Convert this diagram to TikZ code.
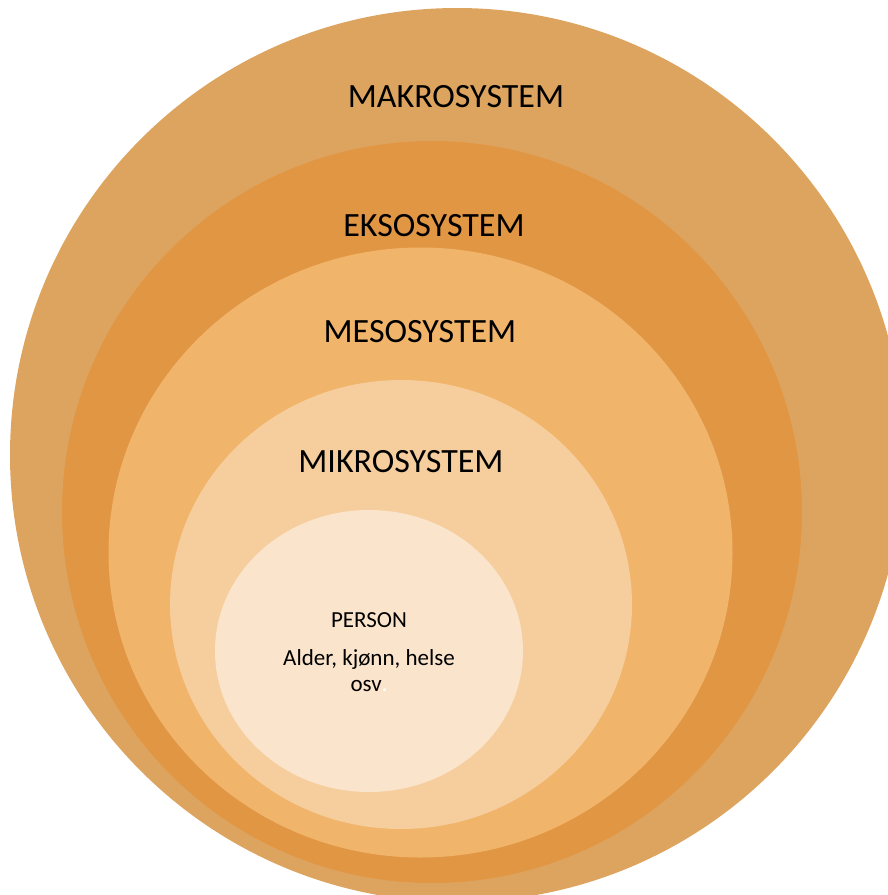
\documentclass[tikz,border=0pt]{standalone}
\usepackage{fontspec}
\setmainfont{Carlito}
\definecolor{cmakro}{RGB}{221,164,96}
\definecolor{cekso}{RGB}{225,150,68}
\definecolor{cmeso}{RGB}{241,180,107}
\definecolor{cmikro}{RGB}{246,206,157}
\definecolor{cperson}{RGB}{250,229,204}
\begin{document}
\begin{tikzpicture}[x=1pt,y=-1pt,
  biglabel/.style={anchor=base,inner sep=0pt,font=\fontsize{34}{40}\selectfont},
  smalllabel/.style={anchor=base,inner sep=0pt,font=\fontsize{23}{27}\selectfont}]
\useasboundingbox (0,0) rectangle (888,895);
\begin{scope}
\clip (0,0) rectangle (888,895);
\fill[cmakro] (457,455) ellipse [x radius=447, y radius=447];
\fill[cekso] (432,512) ellipse [x radius=370, y radius=371];
\fill[cmeso] (420.5,552.5) ellipse [x radius=312, y radius=305];
\fill[cmikro] (401,604.5) ellipse [x radius=231, y radius=224.5];
\fill[cperson] (369,651) ellipse [x radius=154, y radius=141];
\end{scope}
\node[biglabel] (makro) at (456,107) {MAKROSYSTEM};
\node[biglabel] (ekso) at (434,236) {EKSOSYSTEM};
\node[biglabel] (meso) at (420,342) {MESOSYSTEM};
\node[biglabel] (mikro) at (401,472) {MIKROSYSTEM};
\node[smalllabel] (person) at (369,627) {PERSON};
\node[smalllabel] (alder) at (369,665) {Alder, kjønn, helse};
\node[smalllabel] (osv) at (369,691) {osv\textcolor{white}{.}};
\end{tikzpicture}
\end{document}
